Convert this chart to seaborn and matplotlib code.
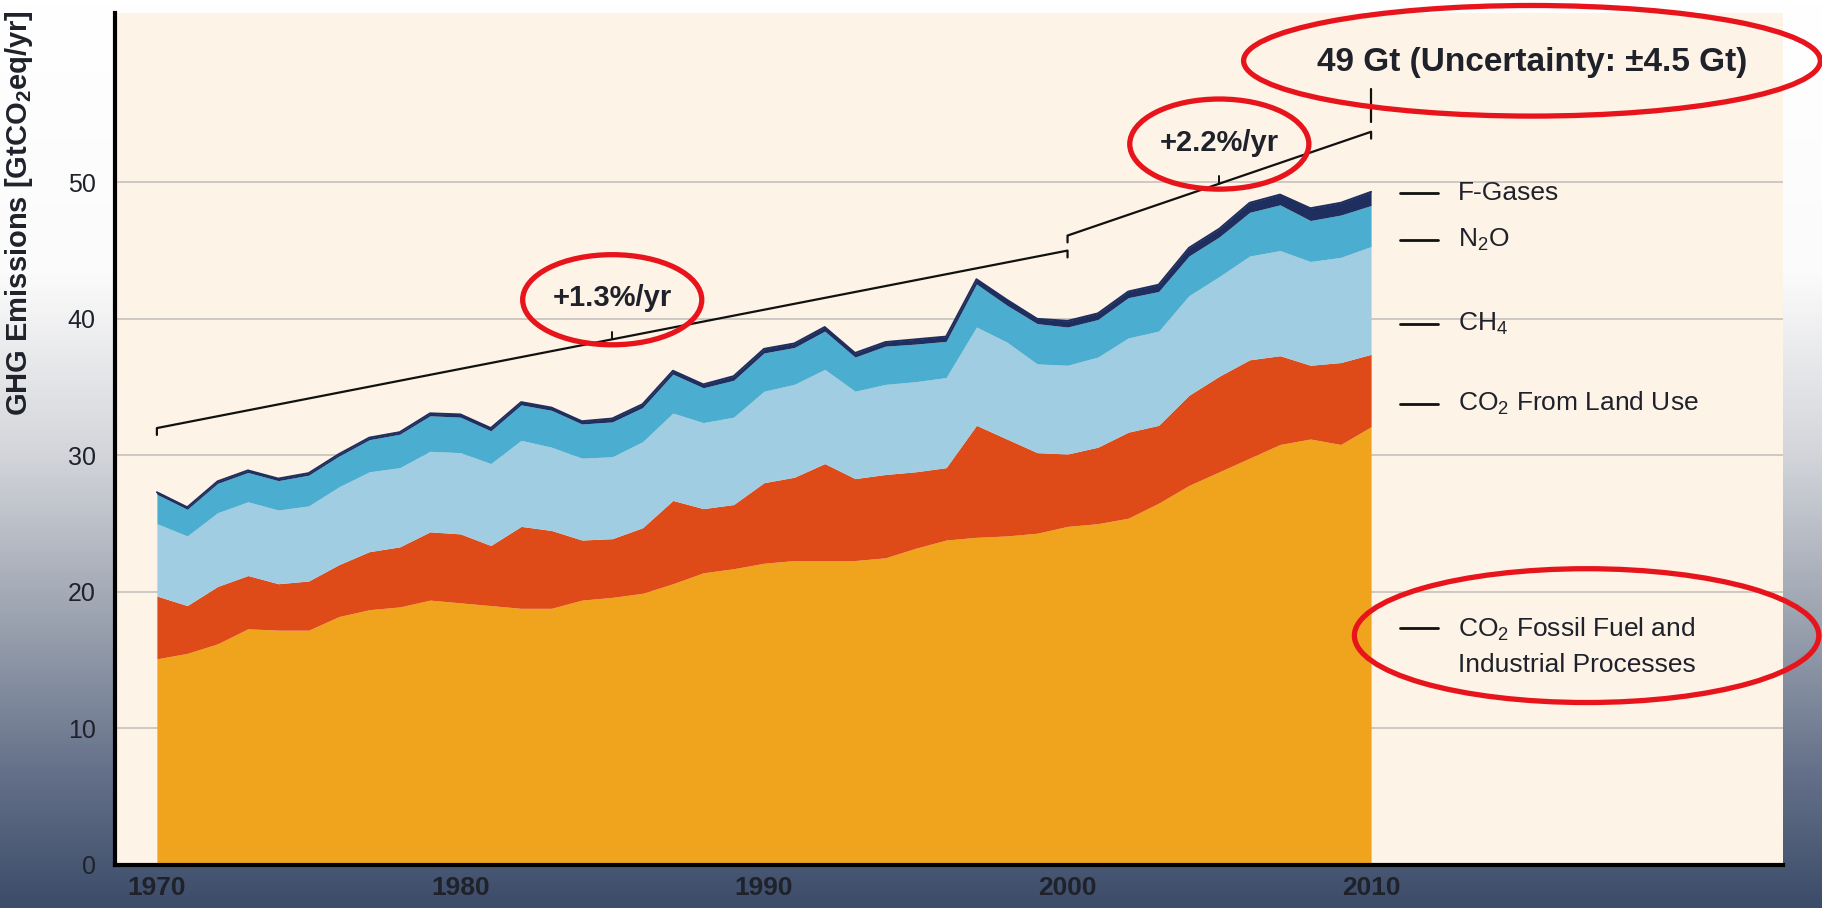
import numpy as np
import matplotlib
matplotlib.use("Agg")
import matplotlib.pyplot as plt
from matplotlib.colors import LinearSegmentedColormap
from matplotlib.patches import Ellipse
import seaborn as sns

# Annual GHG emissions by gas, GtCO2eq/yr
years = list(range(1970, 2011))
co2_fossil = [15.1, 15.5, 16.2, 17.3, 17.2, 17.2, 18.2, 18.7, 18.9, 19.4,
              19.2, 19.0, 18.8, 18.8, 19.4, 19.6, 19.9, 20.6, 21.4, 21.7,
              22.1, 22.3, 22.3, 22.3, 22.5, 23.2, 23.8, 24.0, 24.1, 24.3,
              24.8, 25.0, 25.4, 26.5, 27.8, 28.8, 29.8, 30.8, 31.2, 30.8, 32.1]
co2_land = [4.6, 3.5, 4.2, 3.9, 3.4, 3.6, 3.8, 4.25, 4.4, 5.0,
            5.05, 4.4, 6.0, 5.7, 4.4, 4.3, 4.8, 6.1, 4.7, 4.7,
            5.9, 6.1, 7.1, 6.0, 6.1, 5.6, 5.3, 8.2, 7.1, 5.9,
            5.3, 5.6, 6.3, 5.7, 6.6, 7.0, 7.2, 6.5, 5.4, 6.0, 5.3]
ch4 = [5.3, 5.1, 5.4, 5.4, 5.4, 5.5, 5.7, 5.85, 5.8, 5.9,
       5.95, 6.0, 6.3, 6.1, 6.0, 6.0, 6.3, 6.4, 6.3, 6.4,
       6.7, 6.8, 6.9, 6.4, 6.6, 6.6, 6.6, 7.2, 7.1, 6.5,
       6.5, 6.6, 6.9, 6.9, 7.3, 7.3, 7.6, 7.7, 7.6, 7.7, 7.9]
n2o = [2.15, 1.95, 2.15, 2.15, 2.15, 2.25, 2.25, 2.35, 2.45, 2.6,
       2.6, 2.4, 2.6, 2.7, 2.5, 2.55, 2.5, 2.85, 2.55, 2.7,
       2.8, 2.7, 2.8, 2.5, 2.8, 2.75, 2.65, 3.15, 2.7, 2.95,
       2.8, 2.75, 2.95, 2.9, 2.9, 2.9, 3.2, 3.35, 3.0, 3.1, 3.0]
f_gases = [0.15, 0.15, 0.15, 0.15, 0.15, 0.15, 0.15, 0.15, 0.15, 0.18,
           0.2, 0.2, 0.2, 0.2, 0.2, 0.25, 0.25, 0.25, 0.25, 0.3,
           0.3, 0.3, 0.3, 0.3, 0.3, 0.35, 0.35, 0.35, 0.4, 0.35,
           0.45, 0.45, 0.45, 0.5, 0.6, 0.6, 0.7, 0.75, 0.9, 0.9, 1.0]

gas_labels = ["F-Gases", "N$_2$O", "CH$_4$", "CO$_2$ From Land Use",
              "CO$_2$ Fossil Fuel and\nIndustrial Processes"]
label_y = [49.2, 45.8, 39.6, 33.8, 17.35]

# trend brackets: (start year, start value, end year, end value, text)
trends = [(1970, 32.0, 2000, 45.0, "+1.3%/yr"),
          (2000, 46.1, 2010, 53.7, "+2.2%/yr")]
total_text = "49 Gt (Uncertainty: \u00b14.5 Gt)"

sns.set_theme(style="white")
FONT = ["Liberation Sans Narrow", "Liberation Sans", "DejaVu Sans"]
plt.rcParams["font.family"] = FONT
plt.rcParams["mathtext.default"] = "regular"

colors = ["#F0A41E", "#DE4A18", "#A0CDE2", "#4BADD0", "#1E2F5F"]
ink = "#1f222b"

fig = plt.figure(figsize=(18.22, 9.08), dpi=100)

# background gradient behind everything
bg = fig.add_axes([0, 0, 1, 1], zorder=-10)
grad_cmap = LinearSegmentedColormap.from_list(
    "bg", [(0.0, "#ffffff"), (0.3, "#fbfbfb"), (0.5, "#d3d5da"),
           (0.7, "#969eac"), (0.85, "#65718a"), (1.0, "#3c4c68")])
bg.imshow(np.linspace(0, 1, 256).reshape(-1, 1), cmap=grad_cmap,
          aspect="auto", extent=[0, 1, 0, 1], origin="upper")
bg.set_axis_off()

ax = fig.add_axes([115 / 1822, 1 - 865 / 908, 1668 / 1822, 852 / 908])
ax.set_facecolor("#FDF3E6")

ax.stackplot(years, co2_fossil, co2_land, ch4, n2o, f_gases,
             colors=colors, linewidth=0, zorder=2)
total = np.sum([co2_fossil, co2_land, ch4, n2o, f_gases], axis=0)
ax.plot(years, total, color=colors[4], lw=1.4, zorder=3)

# trend brackets
for x0, y0, x1, y1, txt in trends:
    ax.plot([x0, x0, x1, x1], [y0 - 0.5, y0, y1, y1 - 0.5],
            color="#111111", lw=1.6, zorder=4)
    xm, ym = (x0 + x1) / 2, (y0 + y1) / 2
    ax.plot([xm, xm], [ym, ym + 0.55], color="#111111", lw=1.4, zorder=4)
    ax.text(xm, ym + 3.0, txt, ha="center", va="center", fontsize=21,
            fontweight="bold", color=ink, zorder=5)
    ax.add_patch(Ellipse((xm, ym + 2.9), 5.9, 6.6, fill=False,
                         ec="#E8141B", lw=3.8, zorder=6))

ax.plot([2010, 2010], [54.4, 56.8], color="#111111", lw=1.6, zorder=4)
ax.text(2015.3, 58.8, total_text, ha="center", va="center", fontsize=24,
        fontweight="bold", color=ink, zorder=5)
ax.add_patch(Ellipse((2015.3, 58.9), 19.0, 8.1, fill=False, ec="#E8141B",
                     lw=3.8, zorder=6, clip_on=False))

# right-side labels
for lab, yv in zip(gas_labels, label_y):
    ax.plot([2010.95, 2012.2], [yv, yv], color="#111111", lw=2, zorder=4)
    if "\n" in lab:
        ax.text(2012.85, yv + 0.9, lab, ha="left", va="top", fontsize=19,
                color=ink, linespacing=1.5)
    else:
        ax.text(2012.85, yv, lab, ha="left", va="center", fontsize=19,
                color=ink)
ax.add_patch(Ellipse((2017.1, 16.8), 15.3, 9.8, fill=False, ec="#E8141B",
                     lw=3.8, zorder=6, clip_on=False))

ax.set_xlim(1968.62, 2023.57)
ax.set_ylim(0, 62.4)
ax.set_xticks([1970, 1980, 1990, 2000, 2010])
ax.set_yticks([0, 10, 20, 30, 40, 50])
ax.yaxis.grid(True, color="#c9c5bf", lw=1.3)
ax.set_axisbelow(True)

ax.tick_params(axis="x", direction="inout", length=10, width=1.5,
               colors="#111111", labelsize=19, pad=3)
ax.tick_params(axis="y", length=0, labelsize=18, pad=14, labelcolor=ink)
for t in ax.get_xticklabels():
    t.set_fontweight("bold")
    t.set_color(ink)

sns.despine(ax=ax)
for side in ("left", "bottom"):
    ax.spines[side].set_color("#000000")
    ax.spines[side].set_linewidth(3)

ax.set_ylabel("GHG Emissions [GtCO$_2$eq/yr]", fontsize=21,
              fontweight="bold", color=ink)
ax.yaxis.set_label_coords(-0.048, 0.765)

fig.savefig("out.png", dpi=100)
